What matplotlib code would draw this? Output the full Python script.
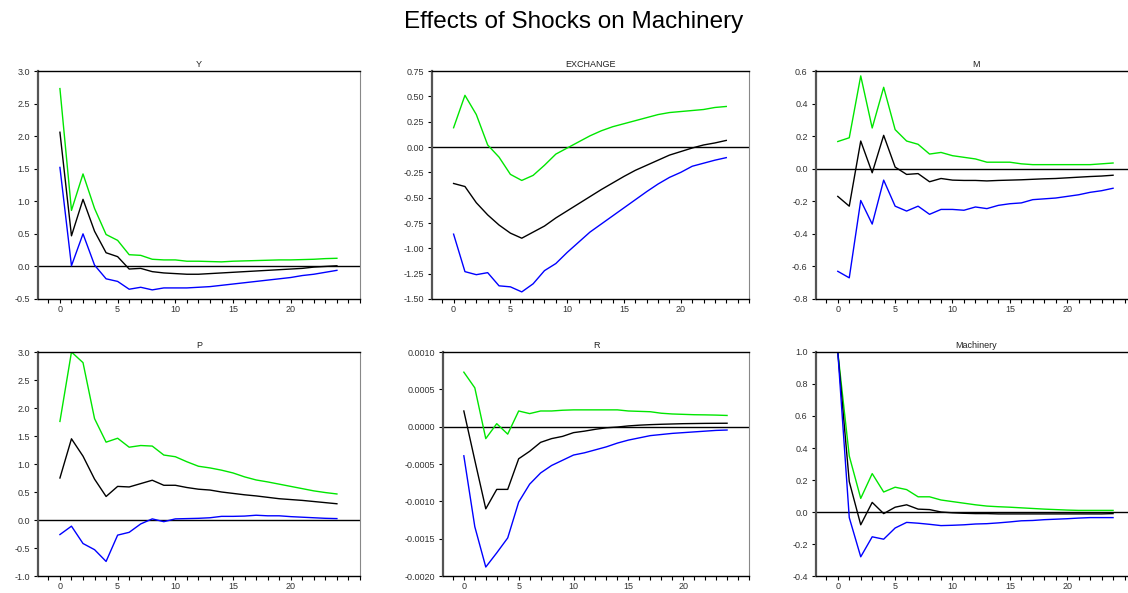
import matplotlib
matplotlib.use('Agg')
import matplotlib.pyplot as plt
import numpy as np
from matplotlib.ticker import MultipleLocator, FixedLocator, FormatStrFormatter

plt.rcParams['font.family'] = ['Liberation Sans', 'DejaVu Sans']

steps = np.arange(25)
xtick_labels = [0, 5, 10, 15, 20]

y_upper = [2.73, 0.86, 1.42, 0.89, 0.49, 0.40, 0.18, 0.17, 0.11, 0.10, 0.10, 0.08, 0.08,
           0.075, 0.07, 0.08, 0.085, 0.09, 0.095, 0.10, 0.10, 0.105, 0.11, 0.12, 0.125]
y_mid = [2.06, 0.47, 1.03, 0.54, 0.21, 0.15, -0.04, -0.03, -0.08, -0.10, -0.11, -0.12, -0.12,
         -0.11, -0.10, -0.09, -0.08, -0.07, -0.06, -0.05, -0.04, -0.03, -0.01, 0.00, 0.01]
y_lower = [1.52, 0.01, 0.50, 0.02, -0.19, -0.23, -0.35, -0.32, -0.36, -0.33, -0.33, -0.33, -0.32,
           -0.31, -0.29, -0.27, -0.25, -0.23, -0.21, -0.19, -0.17, -0.14, -0.12, -0.09, -0.06]

ex_upper = [0.19, 0.51, 0.32, 0.02, -0.10, -0.27, -0.33, -0.28, -0.18, -0.07, -0.01, 0.05, 0.11,
            0.16, 0.20, 0.23, 0.26, 0.29, 0.32, 0.34, 0.35, 0.36, 0.37, 0.39, 0.40]
ex_mid = [-0.36, -0.39, -0.55, -0.67, -0.77, -0.85, -0.90, -0.84, -0.78, -0.70, -0.63, -0.56, -0.49,
          -0.42, -0.355, -0.29, -0.23, -0.18, -0.13, -0.08, -0.045, -0.01, 0.02, 0.04, 0.065]
ex_lower = [-0.86, -1.23, -1.26, -1.24, -1.37, -1.38, -1.43, -1.35, -1.22, -1.15, -1.04, -0.94, -0.84,
            -0.76, -0.68, -0.60, -0.52, -0.44, -0.365, -0.30, -0.25, -0.19, -0.16, -0.13, -0.105]

m_upper = [0.167, 0.19, 0.57, 0.25, 0.50, 0.24, 0.17, 0.15, 0.09, 0.10, 0.08, 0.07, 0.06,
           0.04, 0.04, 0.04, 0.03, 0.025, 0.025, 0.025, 0.025, 0.025, 0.025, 0.03, 0.035]
m_mid = [-0.17, -0.23, 0.17, -0.025, 0.205, 0.01, -0.035, -0.03, -0.08, -0.06, -0.07, -0.072, -0.072,
         -0.075, -0.072, -0.07, -0.068, -0.065, -0.062, -0.06, -0.056, -0.052, -0.048, -0.045, -0.04]
m_lower = [-0.63, -0.67, -0.195, -0.34, -0.07, -0.23, -0.26, -0.23, -0.28, -0.25, -0.25, -0.255, -0.235,
           -0.245, -0.225, -0.215, -0.21, -0.19, -0.185, -0.18, -0.17, -0.16, -0.145, -0.135, -0.12]

p_upper = [1.76, 3.0, 2.81, 1.81, 1.39, 1.46, 1.30, 1.33, 1.32, 1.16, 1.13, 1.04, 0.96,
           0.93, 0.89, 0.84, 0.77, 0.715, 0.68, 0.64, 0.60, 0.56, 0.52, 0.49, 0.465]
p_mid = [0.75, 1.45, 1.14, 0.73, 0.42, 0.60, 0.59, 0.65, 0.71, 0.62, 0.62, 0.58, 0.55,
         0.535, 0.50, 0.475, 0.45, 0.43, 0.405, 0.38, 0.365, 0.35, 0.33, 0.31, 0.29]
p_lower = [-0.26, -0.11, -0.42, -0.53, -0.74, -0.27, -0.22, -0.07, 0.02, -0.03, 0.02, 0.025, 0.03,
           0.04, 0.065, 0.065, 0.07, 0.085, 0.075, 0.075, 0.06, 0.05, 0.04, 0.03, 0.025]

r_upper = [0.00073, 0.00052, -0.00016, 0.00004, -0.0001, 0.00021, 0.000175, 0.00021, 0.00021,
           0.00022, 0.000225, 0.000225, 0.000225, 0.000225, 0.000225, 0.00021, 0.000205, 0.0002,
           0.00018, 0.00017, 0.000165, 0.00016, 0.000158, 0.000155, 0.00015]
r_mid = [0.00021, -0.00045, -0.0011, -0.00084, -0.00084, -0.00043, -0.00033, -0.00021, -0.00016,
         -0.00013, -0.00008, -0.00006, -0.000035, -0.000015, -0.000005, 0.00001, 0.00002, 0.000027,
         0.000032, 0.000036, 0.00004, 0.000042, 0.000044, 0.000045, 0.000046]
r_lower = [-0.00039, -0.00134, -0.00188, -0.00169, -0.00149, -0.00101, -0.00077, -0.00062, -0.00052,
           -0.00045, -0.00038, -0.00035, -0.00031, -0.00027, -0.00022, -0.00018, -0.00015, -0.00012,
           -0.000105, -0.00009, -0.00008, -0.00007, -0.00006, -0.00005, -0.000045]

mach_upper = [1.0, 0.35, 0.085, 0.24, 0.125, 0.155, 0.14, 0.095, 0.095, 0.075, 0.065, 0.055, 0.045,
              0.037, 0.033, 0.03, 0.026, 0.022, 0.018, 0.015, 0.012, 0.01, 0.01, 0.01, 0.01]
mach_mid = [1.0, 0.19, -0.08, 0.06, -0.01, 0.03, 0.045, 0.018, 0.015, 0.0, -0.005, -0.008, -0.01,
            -0.01, -0.012, -0.012, -0.012, -0.012, -0.012, -0.012, -0.012, -0.012, -0.012, -0.012, -0.01]
mach_lower = [1.0, -0.035, -0.28, -0.155, -0.17, -0.10, -0.065, -0.07, -0.077, -0.085, -0.083, -0.08,
              -0.075, -0.073, -0.068, -0.062, -0.055, -0.053, -0.048, -0.045, -0.042, -0.038, -0.035,
              -0.035, -0.035]

W, H = 1128, 593
fig = plt.figure(figsize=(W / 100, H / 100), dpi=100)
fig.text(574 / W, 1 - 22 / H, 'Effects of Shocks on Machinery', ha='center', va='center', fontsize=17.5)

# (name, upper, mid, lower, ylim, ystep, fmt, pixel box left/right/top/bottom)
panels = [
    ('Y', y_upper, y_mid, y_lower, (-0.5, 3.0), 0.5, '%.1f', (38, 360, 71, 299)),
    ('EXCHANGE', ex_upper, ex_mid, ex_lower, (-1.5, 0.75), 0.25, '%.2f', (432, 749, 71, 299)),
    ('M', m_upper, m_mid, m_lower, (-0.8, 0.6), 0.2, '%.1f', (816, 1136, 71, 299)),
    ('P', p_upper, p_mid, p_lower, (-1.0, 3.0), 0.5, '%.1f', (38, 360, 352, 576)),
    ('R', r_upper, r_mid, r_lower, (-0.002, 0.001), 0.0005, '%.4f', (443, 749, 352, 576)),
    ('Machinery', mach_upper, mach_mid, mach_lower, (-0.4, 1.0), 0.2, '%.1f', (816, 1136, 352, 576)),
]

for name, up, mid, lo, ylim, ystep, fmt, (l, r, t, b) in panels:
    ax = fig.add_axes([l / W, 1 - b / H, (r - l) / W, (b - t) / H])
    ax.axhline(0, color='black', lw=1.0, zorder=1)
    ax.plot(steps, up, color='#00e600', lw=1.0)
    ax.plot(steps, mid, color='black', lw=1.0)
    ax.plot(steps, lo, color='#0000ff', lw=1.0)
    ax.set_xlim(-1.9, 26)
    ax.set_ylim(*ylim)
    ax.xaxis.set_major_locator(FixedLocator(xtick_labels))
    ax.xaxis.set_minor_locator(MultipleLocator(1))
    ax.yaxis.set_major_locator(MultipleLocator(ystep))
    ax.yaxis.set_major_formatter(FormatStrFormatter(fmt))
    ax.tick_params(which='both', direction='out', length=3, width=0.8, labelsize=6.5,
                   labelcolor='#333333')
    ax.tick_params(axis='x', pad=1.5)
    ax.tick_params(axis='y', pad=3)
    ax.spines['left'].set_color('#555555')
    ax.spines['left'].set_linewidth(1.6)
    ax.spines['right'].set_color('#888888')
    ax.spines['top'].set_linewidth(1.0)
    ax.spines['bottom'].set_linewidth(1.0)
    ax.set_title(name, fontsize=6.5, pad=3, color='#222222')

plt.savefig('out.png', dpi=100)
